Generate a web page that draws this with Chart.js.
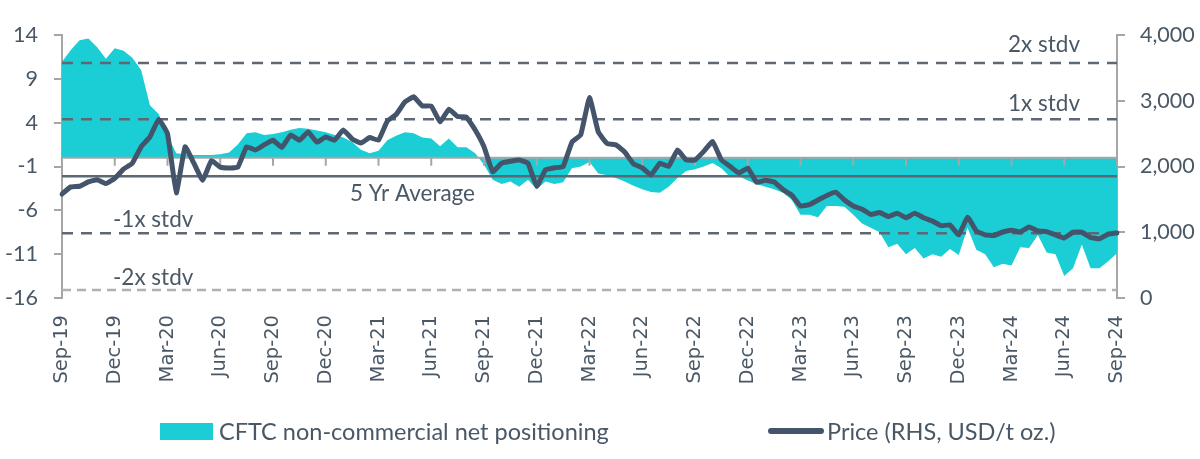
<!DOCTYPE html>
<html>
<head>
<meta charset="utf-8">
<title>CFTC positioning vs price</title>
<script src="https://cdn.jsdelivr.net/npm/chart.js@4.4.0/dist/chart.umd.min.js"></script>
<style>
  html, body { margin: 0; padding: 0; background: #fff; }
  #wrap { position: relative; width: 1200px; height: 459px; }
  .legend-item { position: absolute; top: 417px; font: 23.5px Lato, sans-serif; color: #4a5866; display: flex; align-items: center; white-space: nowrap; }
  .swatch-area { display: inline-block; width: 53px; height: 17px; background: #1bcdd4; margin-right: 6px; }
  .swatch-line { display: inline-block; width: 56px; height: 6px; border-radius: 3px; background: #44546a; margin-right: 3px; }
</style>
</head>
<body>
<div id="wrap">
  <canvas id="cftcChart" width="1200" height="459"></canvas>
  <div class="legend-item" style="left:160px"><span class="swatch-area"></span>CFTC non-commercial net positioning</div>
  <div class="legend-item" style="left:768px"><span class="swatch-line"></span>Price (RHS, USD/t oz.)</div>
</div>
<script>
// categorie: dwa punkty na miesiac, od Sep-19 do Sep-24
const months = ['Jan', 'Feb', 'Mar', 'Apr', 'May', 'Jun', 'Jul', 'Aug', 'Sep', 'Oct', 'Nov', 'Dec'];
const categories = [];
for (let m = 8; m <= 8 + 60; m++) {
    const label = months[m % 12] + '-' + (19 + Math.floor(m / 12));
    categories.push(label);
    if (m < 68) categories.push(label + ' mid');
}

// CFTC non-commercial net positioning (lewa os)
const positioning = [
    10.95, 12.3, 13.4, 13.6, 12.6, 11.3, 12.5, 12.2, 11.4, 10.0,
    6.0, 5.0, 2.5, 0.5, 0.4, 0.3, 0.3, 0.3, 0.4, 0.6,
    1.5, 2.8, 2.9, 2.6, 2.7, 2.9, 3.2, 3.4, 3.3, 3.1,
    2.9, 2.6, 2.3, 1.8, 0.9, 0.5, 0.8, 2.0, 2.5, 2.9,
    2.8, 2.3, 2.2, 1.3, 2.2, 1.2, 1.2, 0.5, -0.8, -2.5,
    -3.0, -2.7, -3.3, -2.5, -3.6, -2.7, -3.0, -2.8, -1.2, -1.0,
    -0.5, -1.8, -2.0, -2.3, -2.7, -3.2, -3.6, -3.9, -4.0, -3.3,
    -2.3, -1.5, -1.3, -1.0, -0.6, -1.2, -2.2, -2.1, -2.6, -3.0,
    -3.3, -3.6, -4.0, -4.8, -6.5, -6.5, -6.8, -5.5, -5.5, -5.6,
    -6.5, -7.5, -8.0, -8.5, -10.2, -9.8, -11.0, -10.3, -11.5, -11.0,
    -11.3, -10.4, -11.1, -8.0, -10.5, -11.0, -12.5, -12.1, -12.3, -10.2,
    -10.3, -8.8, -10.8, -11.0, -13.5, -12.6, -9.9, -12.6, -12.6, -11.8,
    -10.9
];

// Cena (prawa os, USD/t oz.)
const price = [
    1580, 1690, 1700, 1765, 1800, 1740, 1820, 1960, 2050, 2300,
    2450, 2720, 2500, 1600, 2300, 2050, 1790, 2090, 1990, 1977,
    1990, 2300, 2250, 2330, 2400, 2290, 2480, 2400, 2525, 2370,
    2450, 2400, 2555, 2420, 2357, 2440, 2400, 2690, 2790, 2980,
    3060, 2920, 2920, 2680, 2870, 2760, 2750, 2555, 2300, 1920,
    2050, 2080, 2100, 2050, 1700, 1950, 1980, 2000, 2370, 2480,
    3050, 2525, 2350, 2330, 2220, 2040, 1980, 1870, 2050, 2000,
    2250, 2100, 2100, 2230, 2380, 2100, 2000, 1900, 1977, 1760,
    1790, 1765, 1650, 1565, 1400, 1420, 1490, 1560, 1610, 1490,
    1400, 1350, 1270, 1300, 1240, 1290, 1220, 1290, 1220, 1170,
    1100, 1110, 960, 1230, 1020, 960, 950, 1004, 1030, 1004,
    1080, 1020, 1010, 960, 913, 1000, 1000, 920, 900, 970,
    990
];

const leftTicks = [-16, -11, -6, -1, 4, 9, 14];
const fiveYearAverage = -2.1;
const stdvLevels = [10.8, 4.4, -8.6, -15.1];
const stdvNames = ['2x stdv', '1x stdv', '-1x stdv', '-2x stdv'];

const textColor = '#4a5866';
const axisGray = '#a6a6a6';
const font = 'Lato, sans-serif';

// linie odniesienia rysowane pod linia ceny
const refLines = {
    id: 'refLines',
    beforeDatasetDraw(chart, args) {
        if (args.index !== 1) return;
        const {ctx, chartArea: a, scales} = chart;
        const y = scales.y;
        ctx.save();

        // linia zera + znaczniki osi x
        const y0 = y.getPixelForValue(0);
        ctx.strokeStyle = axisGray;
        ctx.lineWidth = 2;
        ctx.beginPath();
        ctx.moveTo(a.left, y0);
        ctx.lineTo(a.right, y0);
        scales.x.ticks.forEach((t, i) => {
            const px = scales.x.getPixelForTick(i);
            ctx.moveTo(px, y0);
            ctx.lineTo(px, y0 + 8);
        });
        ctx.stroke();

        // 5-letnia srednia
        const yAvg = y.getPixelForValue(fiveYearAverage);
        ctx.strokeStyle = '#5d6873';
        ctx.lineWidth = 2.5;
        ctx.beginPath();
        ctx.moveTo(a.left, yAvg);
        ctx.lineTo(a.right, yAvg);
        ctx.stroke();

        // odchylenia standardowe
        stdvLevels.forEach((v, i) => {
            const py = y.getPixelForValue(v);
            ctx.strokeStyle = i === 3 ? '#b0b0b0' : '#5d6873';
            ctx.lineWidth = 2.5;
            ctx.setLineDash(i === 3 ? [9, 6] : [11, 8]);
            ctx.beginPath();
            ctx.moveTo(a.left, py);
            ctx.lineTo(a.right, py);
            ctx.stroke();
        });
        ctx.setLineDash([]);

        ctx.fillStyle = textColor;
        ctx.font = '22.5px ' + font;
        ctx.textBaseline = 'middle';
        const offsets = [-18, -15, -13, -12];
        stdvLevels.forEach((v, i) => {
            const py = y.getPixelForValue(v);
            if (i < 2) {
                ctx.textAlign = 'right';
                ctx.fillText(stdvNames[i], a.right - 37, py + offsets[i]);
            } else {
                ctx.textAlign = 'left';
                ctx.fillText(stdvNames[i], a.left + 51, py + offsets[i]);
            }
        });
        ctx.textAlign = 'left';
        ctx.fillText('5 Yr Average', a.left + 288, yAvg + 18);
        ctx.restore();
    }
};

const ctx = document.getElementById('cftcChart').getContext('2d');

const cftcChart = new Chart(ctx, {
    type: 'line',
    data: {
        labels: categories,
        datasets: [{
            label: 'CFTC non-commercial net positioning',
            data: positioning,
            yAxisID: 'y',
            backgroundColor: '#1bcdd4',
            borderWidth: 0,
            pointRadius: 0,
            fill: 'origin',
            order: 2
        }, {
            label: 'Price (RHS, USD/t oz.)',
            data: price,
            yAxisID: 'y1',
            borderColor: '#44546a',
            borderWidth: 5,
            borderJoinStyle: 'round',
            borderCapStyle: 'round',
            pointRadius: 0,
            tension: 0.1,
            fill: false,
            order: 1
        }]
    },
    options: {
        responsive: false,
        animation: false,
        layout: { padding: { top: 35, bottom: 0, left: 0, right: 0 } },
        plugins: {
            legend: { display: false },
            tooltip: { enabled: false }
        },
        scales: {
            x: {
                type: 'category',
                offset: false,
                grid: { display: false, drawTicks: false },
                border: { display: false },
                afterBuildTicks: s => { s.ticks = s.ticks.filter(t => t.value % 6 === 0); },
                afterFit: s => { s.height = 161; },
                ticks: {
                    autoSkip: false,
                    minRotation: 90,
                    maxRotation: 90,
                    padding: 17,
                    color: textColor,
                    font: { family: 'DejaVu Sans, sans-serif', size: 19.5 },
                    callback: function (value) { return this.getLabelForValue(value); }
                }
            },
            y: {
                position: 'left',
                min: -16,
                max: 14,
                afterBuildTicks: s => { s.ticks = leftTicks.map(v => ({ value: v })); },
                afterFit: s => { s.width = 62; },
                grid: { drawOnChartArea: false, tickLength: 8, color: axisGray, lineWidth: 2 },
                border: { color: axisGray, width: 2 },
                ticks: { padding: 16, color: textColor, font: { family: font, size: 21.5 } }
            },
            y1: {
                position: 'right',
                min: 0,
                max: 4000,
                afterFit: s => { s.width = 83; },
                grid: { drawOnChartArea: false, tickLength: 8, color: axisGray, lineWidth: 2 },
                border: { color: axisGray, width: 2 },
                ticks: { stepSize: 1000, padding: 15, color: textColor, font: { family: font, size: 21.5 } }
            }
        }
    },
    plugins: [refLines]
});
</script>
</body>
</html>
